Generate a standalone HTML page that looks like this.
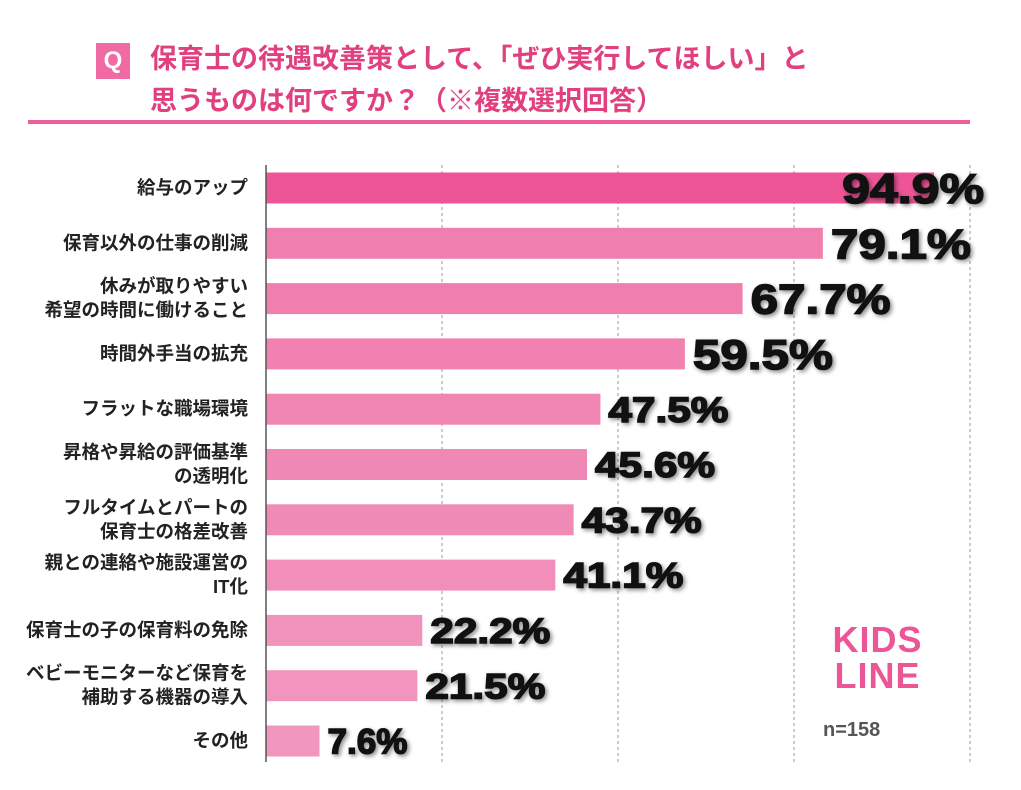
<!DOCTYPE html>
<html><head><meta charset="utf-8"><style>
body{margin:0;width:1021px;height:790px;background:#fff;overflow:hidden;font-family:"Liberation Sans","Noto Sans CJK JP",sans-serif;}
#wrap{position:relative;width:1021px;height:790px;}
.t{position:absolute;color:#e0407f;font-weight:bold;font-size:27px;white-space:nowrap;}
</style></head><body>
<div id="wrap">
<div style="position:absolute;left:96px;top:43px;width:34px;height:36px;background:#f06aa3;color:#fff;font-weight:bold;font-size:24px;text-align:center;line-height:36px;">Q</div>
<div class="t" style="left:150px;top:37px;">保育士の待遇改善策として、「ぜひ実行してほしい」と</div>
<div class="t" style="left:150px;top:79px;">思うものは何ですか？（※複数選択回答）</div>
<div style="position:absolute;left:28px;top:120px;width:942px;height:4px;background:#ef5d9c;"></div>
<svg id="c" width="1021" height="790" style="position:absolute;left:0;top:0"></svg>
<div style="position:absolute;left:815px;top:622px;width:125px;height:80px;font-weight:900;font-size:36px;line-height:36px;color:#ec5596;text-align:center;letter-spacing:1px;">KIDS<br>LINE</div>
<div style="position:absolute;left:823px;top:719px;font-size:20px;font-weight:bold;color:#555;">n=158</div>
</div>
<script>
const categories=[["給与のアップ"],["保育以外の仕事の削減"],["休みが取りやすい","希望の時間に働けること"],["時間外手当の拡充"],["フラットな職場環境"],["昇格や昇給の評価基準","の透明化"],["フルタイムとパートの","保育士の格差改善"],["親との連絡や施設運営の","IT化"],["保育士の子の保育料の免除"],["ベビーモニターなど保育を","補助する機器の導入"],["その他"]];
const values=[94.9,79.1,67.7,59.5,47.5,45.6,43.7,41.1,22.2,21.5,7.6];
const gridTicks=[25,50,75,100];
const svg=document.getElementById('c');const NS='http://www.w3.org/2000/svg';
const x0=266,pxPer=7.04,y0=188,step=55.3,bh=31;
const X=v=>x0+v*pxPer, Y=i=>y0+i*step;
function mk(t,a){const e=document.createElementNS(NS,t);for(const k in a)e.setAttribute(k,a[k]);svg.appendChild(e);return e;}
gridTicks.forEach(g=>{const l=mk('line',{x1:X(g),x2:X(g),y1:165,y2:765,stroke:'#999','stroke-dasharray':'3,3','stroke-width':1});

});
const colors=['#ee5597','#f07fb0','#f07fb0','#f081b1','#f085b4','#f088b6','#f08bb8','#f18fba','#f193bd','#f195be','#f197bf'];
values.forEach((v,i)=>{
const r=mk('rect',{x:x0,y:Y(i)-bh/2,width:X(v)-x0,height:bh,fill:colors[i]});


const lines=categories[i];
lines.forEach((s,j)=>{const t=mk('text',{x:248,y:Y(i)+6+(j-(lines.length-1)/2)*24,'text-anchor':'end','font-size':18.5,'font-weight':'bold',fill:'#222'});t.textContent=s;

});
const fs=i<4?42:35;
const vl=mk('text',{x:X(v)+(i==0?-92:8),y:Y(i)+fs*0.36,'font-size':fs,'font-weight':'900',fill:'#111','textLength':i==0?142:(v<10?80:(i<4?140:120)),'lengthAdjust':'spacingAndGlyphs',stroke:'#111','stroke-width':1.5,style:'filter:drop-shadow(2px 2px 2px rgba(0,0,0,0.45))'});
vl.textContent=v.toFixed(1)+'%';


});
const ax=mk('line',{x1:x0,x2:x0,y1:165,y2:762,stroke:'#555','stroke-width':1.5});


</script>
</body></html>
